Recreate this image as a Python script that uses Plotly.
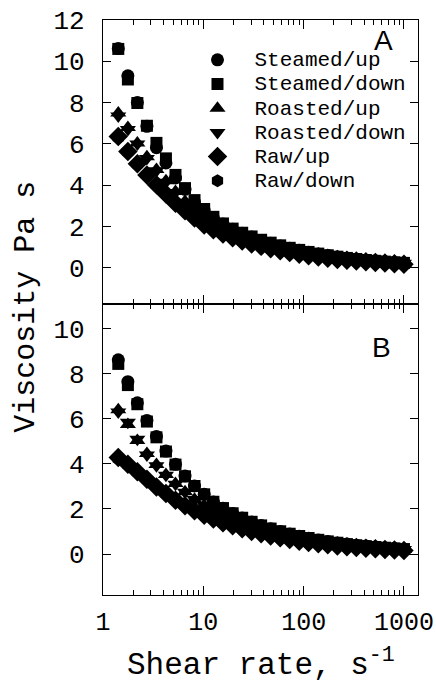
import plotly.graph_objects as go

# Shear rate (s^-1), shared by every series
shear_rate = [1.42, 1.77, 2.20, 2.74, 3.41, 4.24, 5.28, 6.57, 8.17, 10.2,
              12.6, 15.7, 19.6, 24.4, 30.3, 37.7, 46.9, 58.4, 72.6, 90.4,
              112, 140, 174, 217, 270, 335, 417, 519, 646, 804, 1000]

series_names = ["Steamed/up", "Steamed/down", "Roasted/up", "Roasted/down", "Raw/up", "Raw/down"]
series_symbols = ["circle", "square", "triangle-up", "triangle-down", "diamond", "hexagon"]

# Panel A viscosity (Pa s)
a_steamed_up = [10.62, 9.30, 8.00, 6.85, 5.82, 5.08, 4.35, 3.80, 3.20, 2.78,
                2.42, 2.12, 1.87, 1.67, 1.49, 1.33, 1.19, 1.06, 0.95, 0.85,
                0.76, 0.67, 0.60, 0.53, 0.47, 0.42, 0.37, 0.33, 0.29, 0.26, 0.23]
a_steamed_down = [10.60, 9.12, 7.98, 6.88, 6.05, 5.30, 4.50, 3.86, 3.28, 2.85,
                  2.47, 2.15, 1.90, 1.70, 1.52, 1.36, 1.22, 1.09, 0.97, 0.87,
                  0.77, 0.69, 0.61, 0.54, 0.48, 0.43, 0.38, 0.34, 0.30, 0.27, 0.24]
a_roasted_up = [7.50, 6.80, 6.05, 5.38, 4.76, 4.22, 3.70, 3.22, 2.85, 2.50,
                2.20, 1.95, 1.74, 1.55, 1.39, 1.25, 1.12, 1.00, 0.90, 0.80,
                0.72, 0.64, 0.57, 0.51, 0.45, 0.40, 0.36, 0.32, 0.28, 0.25, 0.22]
a_roasted_down = [7.35, 6.70, 6.00, 5.30, 4.70, 4.15, 3.65, 3.18, 2.80, 2.46,
                  2.17, 1.93, 1.72, 1.54, 1.38, 1.24, 1.11, 0.99, 0.89, 0.79,
                  0.71, 0.63, 0.56, 0.50, 0.44, 0.40, 0.35, 0.31, 0.28, 0.25, 0.22]
a_raw_up = [6.36, 5.63, 5.04, 4.50, 4.02, 3.58, 3.13, 2.77, 2.41, 2.08,
            1.85, 1.64, 1.46, 1.30, 1.16, 1.04, 0.93, 0.83, 0.74, 0.66,
            0.59, 0.52, 0.46, 0.41, 0.37, 0.33, 0.29, 0.26, 0.23, 0.20, 0.18]
a_raw_down = [6.30, 5.60, 5.00, 4.48, 4.00, 3.56, 3.12, 2.76, 2.42, 2.10,
              1.86, 1.65, 1.47, 1.31, 1.17, 1.05, 0.94, 0.84, 0.75, 0.67,
              0.60, 0.53, 0.47, 0.42, 0.37, 0.33, 0.30, 0.26, 0.23, 0.21, 0.18]

# Panel B viscosity (Pa s)
b_steamed_up = [8.62, 7.65, 6.71, 5.93, 5.22, 4.57, 3.98, 3.46, 3.02, 2.65,
                2.31, 2.03, 1.80, 1.60, 1.42, 1.26, 1.12, 1.00, 0.89, 0.79,
                0.70, 0.62, 0.55, 0.49, 0.44, 0.39, 0.35, 0.31, 0.27, 0.24, 0.21]
b_steamed_down = [8.44, 7.50, 6.65, 5.88, 5.18, 4.55, 3.97, 3.45, 3.02, 2.65,
                  2.32, 2.04, 1.81, 1.61, 1.43, 1.27, 1.13, 1.01, 0.90, 0.80,
                  0.71, 0.63, 0.56, 0.50, 0.44, 0.39, 0.35, 0.31, 0.28, 0.25, 0.22]
b_roasted_up = [6.40, 5.75, 5.04, 4.46, 3.97, 3.53, 3.13, 2.76, 2.43, 2.16,
                1.93, 1.72, 1.54, 1.38, 1.24, 1.11, 0.99, 0.89, 0.79, 0.71,
                0.63, 0.56, 0.50, 0.45, 0.40, 0.36, 0.32, 0.28, 0.25, 0.22, 0.20]
b_roasted_down = [6.30, 5.85, 5.10, 4.40, 3.92, 3.50, 3.10, 2.74, 2.42, 2.15,
                  1.92, 1.71, 1.53, 1.37, 1.23, 1.10, 0.98, 0.88, 0.79, 0.70,
                  0.63, 0.56, 0.50, 0.44, 0.40, 0.35, 0.32, 0.28, 0.25, 0.22, 0.20]
b_raw_up = [4.28, 3.98, 3.65, 3.32, 2.98, 2.69, 2.39, 2.14, 1.92, 1.72,
            1.55, 1.39, 1.25, 1.12, 1.00, 0.90, 0.80, 0.72, 0.64, 0.57,
            0.51, 0.46, 0.41, 0.36, 0.32, 0.29, 0.26, 0.23, 0.20, 0.18, 0.16]
b_raw_down = [4.22, 3.95, 3.62, 3.30, 2.97, 2.68, 2.38, 2.13, 1.91, 1.71,
              1.54, 1.38, 1.24, 1.11, 1.00, 0.89, 0.80, 0.71, 0.64, 0.57,
              0.51, 0.45, 0.40, 0.36, 0.32, 0.29, 0.26, 0.23, 0.20, 0.18, 0.16]

x_tickvals = [1, 10, 100, 1000]
x_ticktext = ["1", "10", "100", "1000"]
a_yticks = [0, 2, 4, 6, 8, 10, 12]
b_yticks = [0, 2, 4, 6, 8, 10]

panel_a = [a_steamed_up, a_steamed_down, a_roasted_up, a_roasted_down, a_raw_up, a_raw_down]
panel_b = [b_steamed_up, b_steamed_down, b_roasted_up, b_roasted_down, b_raw_up, b_raw_down]
marker_sizes = [13, 12, 14, 14, 15, 13]

MONO = "Liberation Mono, Courier New, monospace"
SANS = "Liberation Sans, Arial, sans-serif"

fig = go.Figure()
for name, sym, ms, ya in zip(series_names, series_symbols, marker_sizes, panel_a):
    fig.add_trace(go.Scatter(
        x=shear_rate, y=ya, mode="markers", xaxis="x2", yaxis="y2",
        name='<span style="font-size:21px">' + name + '</span>',
        marker=dict(symbol=sym, size=ms, color="black", line=dict(width=0)),
        showlegend=True))
for name, sym, ms, yb in zip(series_names, series_symbols, marker_sizes, panel_b):
    fig.add_trace(go.Scatter(
        x=shear_rate, y=yb, mode="markers", xaxis="x", yaxis="y",
        name=name, marker=dict(symbol=sym, size=ms, color="black", line=dict(width=0)),
        showlegend=False))

axis_common = dict(showline=True, linecolor="black", linewidth=1.3, mirror="ticks",
                   ticks="inside", tickcolor="black", tickwidth=1.3, showgrid=False,
                   zeroline=False, automargin=False)

split = 0.5061
fig.update_layout(
    width=436, height=682,
    margin=dict(l=103, r=18, t=20, b=87),
    paper_bgcolor="white", plot_bgcolor="white",
    font=dict(family=MONO, color="black"),
    xaxis=dict(type="log", range=[0, 3.14], anchor="y", domain=[0, 1],
               tickvals=x_tickvals, ticktext=x_ticktext, ticklen=9,
               tickfont=dict(family=MONO, size=25), ticklabelstandoff=4,
               minor=dict(ticks="inside", ticklen=5, tickcolor="black", tickwidth=1.2,
                          dtick="D1", showgrid=False),
               **axis_common),
    xaxis2=dict(type="log", range=[0, 3.14], anchor="y2", domain=[0, 1], matches="x",
                tickvals=x_tickvals, ticktext=x_ticktext, ticklen=9, showticklabels=False,
                minor=dict(ticks="inside", ticklen=5, tickcolor="black", tickwidth=1.2,
                           dtick="D1", showgrid=False),
                **axis_common),
    yaxis=dict(domain=[0, split], range=[-1.82, 11.1], anchor="x", tickvals=b_yticks,
               ticklen=8, tickfont=dict(family=MONO, size=26), ticklabelstandoff=12,
               **axis_common),
    yaxis2=dict(domain=[split, 1], range=[-1.75, 12], anchor="x2", tickvals=a_yticks,
                ticklen=8, tickfont=dict(family=MONO, size=26), ticklabelstandoff=12,
                **axis_common),
    legend=dict(x=0.2460, y=0.9605, xanchor="left", yanchor="top",
                bgcolor="rgba(0,0,0,0)", borderwidth=0, itemwidth=64,
                font=dict(family=MONO, size=16.3, color="black")),
    annotations=[
        dict(text="Viscosity Pa s", textangle=-90, xref="paper", yref="paper",
             x=-0.245, y=0.501, xanchor="center", yanchor="middle", showarrow=False,
             font=dict(family=MONO, size=30, color="black")),
        dict(text="Shear rate, s<sup>-1</sup>", xref="paper", yref="paper",
             x=0.5, y=-0.119, xanchor="center", yanchor="middle", showarrow=False,
             font=dict(family=MONO, size=31, color="black")),
        dict(text="A", xref="paper", yref="paper", x=0.889, y=0.9635,
             xanchor="center", yanchor="middle", showarrow=False,
             font=dict(family=SANS, size=28, color="black")),
        dict(text="B", xref="paper", yref="paper", x=0.883, y=0.4296,
             xanchor="center", yanchor="middle", showarrow=False,
             font=dict(family=SANS, size=28, color="black")),
    ],
)

fig.write_html("out.html", config={"displayModeBar": False},
               post_script="document.body.style.margin='0px';")
